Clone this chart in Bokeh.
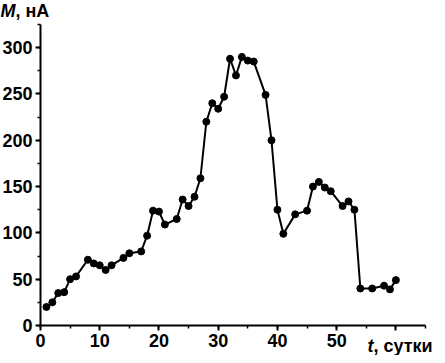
from bokeh.plotting import figure
from bokeh.models import Range1d, SingleIntervalTicker, Label
from bokeh.embed import file_html
from bokeh.resources import INLINE

days = [1, 2, 3, 4, 5, 6, 8, 9, 10, 11, 12, 14, 15, 17, 18, 19, 20, 21, 23, 24,
        25, 26, 27, 28, 29, 30, 31, 32, 33, 34, 35, 36, 38, 39, 40, 41, 43, 45, 46, 47,
        48, 49, 51, 52, 53, 54, 56, 58, 59, 60]
values = [20, 25, 35, 36, 50, 53, 71, 67, 65, 60, 65, 73, 78, 80, 97, 124, 123, 109, 115, 136,
          129, 139, 159, 220, 240, 234, 247, 288, 270, 290, 286, 285, 249, 200, 125, 99, 120, 124, 150, 155,
          149, 145, 129, 134, 125, 40, 40, 43, 39, 49]

x_ticks_hidden = {60: ""}
y_label_main = "M"
y_label_rest = ", нА"
x_label_main = "t"
x_label_rest = ", сутки"

FONT = "Liberation Sans"
W, H = 437, 355
# frame covers whole canvas; axes drawn at fixed data locations
X0_PX, X1_PX = 40, 425      # pixel positions of x = 0 and x = 65
Y0_PX, Y1_PX = 325, 24      # pixel positions of y = 0 and y = 325
XMAX, YMAX = 65, 325
sx = (X1_PX - X0_PX) / XMAX
sy = (Y0_PX - Y1_PX) / YMAX

p = figure(width=W, height=H, output_backend="svg", toolbar_location=None,
           x_range=Range1d(-X0_PX / sx, XMAX + (W - X1_PX) / sx),
           y_range=Range1d(-(H - Y0_PX) / sy, YMAX + Y1_PX / sy),
           min_border_left=0, min_border_right=0, min_border_top=0, min_border_bottom=0)
p.outline_line_color = None
p.grid.visible = False
p.background_fill_color = "white"
p.border_fill_color = "white"

p.line(days, values, line_color="black", line_width=2)
p.scatter(days, values, size=7, fill_color="black", line_color="black")

for ax in (p.xaxis[0], p.yaxis[0]):
    ax.fixed_location = 0
    ax.axis_line_width = 2
    ax.axis_line_color = "black"
    ax.major_tick_line_width = 2
    ax.minor_tick_line_width = 1.5
    ax.major_tick_out = 5
    ax.major_tick_in = 0
    ax.minor_tick_out = 3
    ax.minor_tick_in = 0
    ax.major_label_text_font = FONT
    ax.major_label_text_font_style = "bold"
    ax.major_label_text_font_size = "18px"
    ax.major_label_text_color = "black"
    ax.major_label_standoff = 3

p.xaxis[0].bounds = (0, XMAX)
p.yaxis[0].bounds = (0, YMAX)
p.xaxis[0].ticker = SingleIntervalTicker(interval=10, num_minor_ticks=2)
p.yaxis[0].ticker = SingleIntervalTicker(interval=50, num_minor_ticks=2)
p.xaxis[0].major_label_overrides = x_ticks_hidden

common = dict(text_font=FONT, text_font_size="18px", text_color="black")
xl = (367 - X0_PX) / sx
yl = (Y0_PX - 335) / sy
p.add_layout(Label(x=-X0_PX / sx, y=YMAX + Y1_PX / sy, text=y_label_main,
                   text_font_style="bold italic", text_baseline="top", **common))
p.add_layout(Label(x=-X0_PX / sx, y=YMAX + Y1_PX / sy, x_offset=15, text=y_label_rest,
                   text_font_style="bold", text_baseline="top", **common))
p.add_layout(Label(x=xl, y=yl, text=x_label_main, text_font_style="bold italic",
                   text_baseline="top", **common))
p.add_layout(Label(x=xl, y=yl, x_offset=6, text=x_label_rest, text_font_style="bold",
                   text_baseline="top", **common))

open("out.html", "w").write(file_html(p, INLINE))
